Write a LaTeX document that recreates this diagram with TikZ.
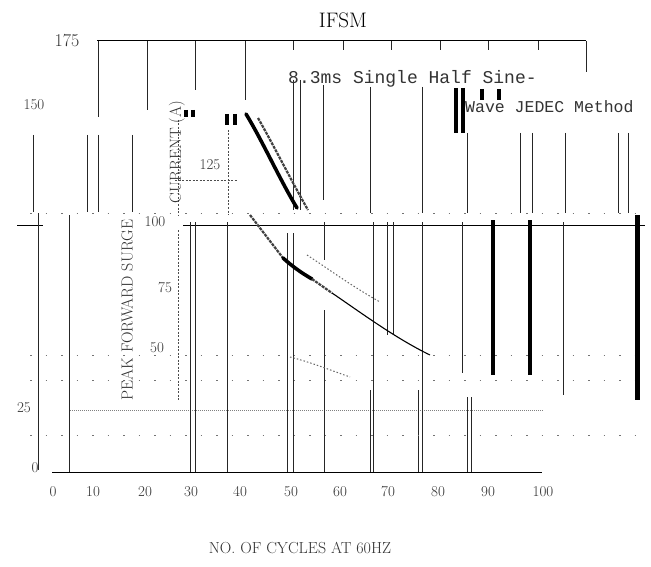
\documentclass[tikz,border=0pt]{standalone}
\usepackage{fontspec}
\newfontfamily\chartmono{Liberation Mono}
\begin{document}
\begin{tikzpicture}[x=1pt,y=-1pt,
  gridline/.style={line width=0.8pt,black!85},
  barline/.style={line width=4pt,black},
  blockline/.style={line width=3.5pt,black},
  dotrow/.style={line width=1pt,black!55,dash pattern=on 1.5pt off 14pt},
  fineline/.style={line width=0.9pt,black!70,dash pattern=on 2pt off 1.5pt},
  mainaxis/.style={line width=1pt,black},
  curvethick/.style={line width=3.6pt,black,line cap=round},
  curvehatch/.style={line width=2.2pt,black!75,dash pattern=on 3pt off 1pt},
  curvethin/.style={line width=1.1pt,black},
  curvedot/.style={line width=1pt,black!60,dash pattern=on 1.5pt off 2pt},
  ticklbl/.style={font=\fontsize{15}{18}\selectfont,inner sep=0pt,text=black!80},
  ytitle/.style={font=\fontsize{16}{19}\selectfont,inner sep=0pt,rotate=90,text=black!80},
  notelbl/.style={font=\chartmono\fontsize{18}{22}\selectfont,inner sep=0pt,anchor=west,text=black!80}]
\useasboundingbox[fill=white] (0,0) rectangle (651,567);

% frame, axes and main grid lines
\draw[mainaxis] (97,41) -- (586,41);
\draw[mainaxis] (17,225) -- (43,225);
\draw[mainaxis] (183,225) -- (645,225);
\draw[mainaxis] (52,472) -- (542,472);
\draw[line width=1pt,black!50,dash pattern=on 1pt off 1pt] (70,410) -- (543,410);

% vertical grid lines (x / top / bottom)
\foreach \gx/\ga/\gb in {33/135/212, 87/135/212, 98/41/117, 98/135/212, 132/135/212,
  147/41/110, 195/41/90, 245/41/100, 293/41/50, 343/41/50, 391/41/50, 440/41/50,
  488/41/50, 538/41/50, 586/41/72,
  293/80/210, 300/80/210, 323/85/200, 370/87/213, 422/87/213, 467/133/213,
  520/133/213, 532/133/213, 565/133/213, 618/133/213, 628/133/213,
  38/213/470, 69/215/472, 190/222/472, 195/222/472, 227/222/472, 287/233/472,
  293/233/472, 324/222/260, 324/310/472, 373/222/472, 370/390/472, 387/222/335,
  393/222/335, 418/390/472, 422/222/472, 462/222/373, 467/397/472, 471/397/472,
  563/222/395}
  \draw[gridline] (\gx,\ga) -- (\gx,\gb);

% faint dashed fragments
\draw[fineline] (178,120) -- (178,215);
\draw[fineline] (228,130) -- (228,215);
\draw[fineline] (175,180) -- (238,180);
\draw[fineline] (178,230) -- (178,400);

% sparse dotted rows
\foreach \ry in {213,355,380,435}
  \draw[dotrow] (30,\ry) -- (640,\ry);

% thick black bars
\foreach \bx/\ba/\bb in {493/220/375, 530/220/375}
  \draw[barline] (\bx,\ba) -- (\bx,\bb);
\draw[line width=5pt] (637,215) -- (637,400);
\foreach \bx/\ba/\bb in {456/88/133, 463/88/133, 482/89/100, 499/89/100,
  186/110/117, 193/110/117, 227/114/125, 235/114/125}
  \draw[blockline] (\bx,\ba) -- (\bx,\bb);

% surge curves
\draw[curvethick] (246,114) .. controls (262,140) and (280,180) .. (297,208);
\draw[curvehatch] (258,118) .. controls (274,146) and (292,182) .. (308,210);
\draw[curvehatch] (250,215) -- (283,258);
\draw[curvethick] (283,258) .. controls (292,266) and (300,272) .. (312,279);
\draw[curvehatch] (312,279) -- (332,293);
\draw[curvethin] (332,293) .. controls (360,312) and (395,338) .. (430,355);
\draw[curvedot] (307,255) .. controls (330,270) and (350,285) .. (380,302);
\draw[curvedot] (290,357) .. controls (310,362) and (330,370) .. (350,377);

% texts
\node[font=\fontsize{21}{24}\selectfont,inner sep=0pt] (title) at (343,20) {IFSM};
\node[ticklbl,font=\fontsize{18}{20}\selectfont] (y175) at (67,41) {175};
\node[ticklbl] (y150) at (34,105) {150};
\node[ticklbl] (y125) at (210,165) {125};
\node[ticklbl] (y100) at (155,222) {100};
\node[ticklbl] (y75) at (165,288) {75};
\node[ticklbl] (y50) at (157,348) {50};
\node[ticklbl] (y25) at (24,408) {25};
\node[ticklbl] (y0) at (35,468) {0};

\foreach \v/\px in {0/53, 10/93, 20/145, 30/191, 40/240, 50/291, 60/340, 70/388,
  80/438, 90/488, 100/543}
  \node[ticklbl] (x\v) at (\px,492) {\v};

\node[font=\fontsize{16}{19}\selectfont,inner sep=0pt,text=black!80] (xtitle) at (300,548) {NO. OF CYCLES AT 60HZ};
\node[ytitle] (ytitleA) at (127,310) {PEAK FORWARD SURGE};
\node[ytitle] (ytitleB) at (177,152) {CURRENT (A)};

\node[notelbl] (note1) at (288,79) {8.3ms Single Half Sine-};
\node[notelbl,font=\chartmono\fontsize{16.5}{20}\selectfont] (note2) at (465,107) {Wave JEDEC Method};
\end{tikzpicture}
\end{document}
